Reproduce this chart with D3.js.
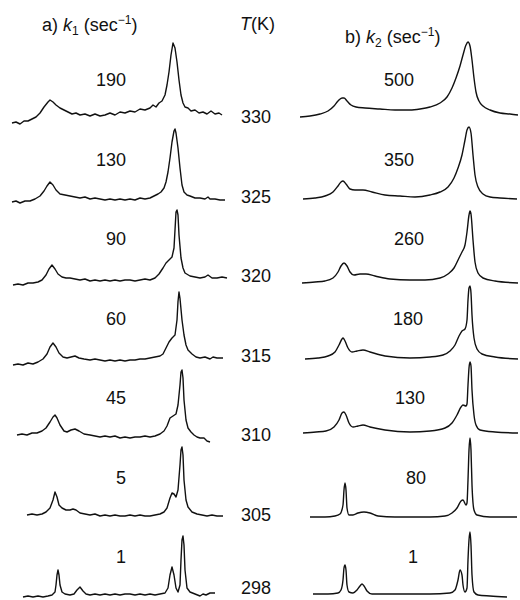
<!DOCTYPE html>
<html>
<head>
<meta charset="utf-8">
<script src="https://cdn.jsdelivr.net/npm/d3@7"></script>
<style>
  html, body { margin: 0; padding: 0; background: #fff; }
  svg { display: block; }
  text { font-family: "Liberation Sans", Arial, Helvetica, sans-serif; fill: #111; }
</style>
</head>
<body>
<svg id="chart" width="520" height="600"></svg>
<script>
// ---------------- DATA ----------------
const temperatures = ["330", "325", "320", "315", "310", "305", "298"];
const k1Rates = ["190", "130", "90", "60", "45", "5", "1"];
const k2Rates = ["500", "350", "260", "180", "130", "80", "1"];

// spectra: [relative shift, intensity] pairs, one array per temperature (top to bottom)
const k1Spectra = [
  [[2,-5],[6,-4],[10,-6],[14,-3],[18,-3],[22,-1],[26,1],[30,5],[34,11],[38,16],[40,18],[43,16],[46,13],[50,10],[54,8],[58,6],[62,4],[66,5],[70,3],[75,4],[80,2],[85,4],[90,2],[95,3],[100,5],[105,3],[110,6],[115,5],[120,7],[125,6],[130,9],[135,8],[140,10],[143,13],[146,11],[149,15],[152,17],[155,23],[157,33],[159,46],[161,63],[163,75],[165,70],[167,56],[169,38],[171,23],[173,15],[175,11],[178,10],[181,7],[185,8],[189,5],[193,6],[197,4],[201,7],[205,4],[209,5],[212,3]],
  [[2,-4.5],[6,-3.5],[10,-5.5],[15,-3.5],[20,-3.5],[25,-1.5],[30,1.5],[34,6.5],[37,11.5],[40,15.5],[43,12.5],[46,7.5],[50,3.5],[55,2.5],[60,1.5],[65,0.5],[70,-0.5],[75,0.5],[80,-1.5],[85,-0.5],[90,-1.5],[95,-2.5],[100,-1.5],[105,-2.5],[110,-1.5],[115,-2.5],[120,-1.5],[125,-2.5],[130,-0.5],[135,-1.5],[140,-0.5],[144,1.5],[148,3.5],[151,5.5],[154,9.5],[156,15.5],[158,25.5],[160,39.5],[162,55.5],[164,66.5],[165,68.5],[166,64.5],[168,49.5],[170,29.5],[172,12.5],[174,5.5],[177,2.5],[180,1.5],[185,-0.5],[190,-0.5],[195,-1.5],[198,0.5],[200,-1.5],[205,-1.5],[210,-2.5],[215,-2.5]],
  [[3,-8],[8,-7],[13,-8],[18,-6],[23,-6],[28,-5],[32,-3],[36,2],[39,8],[42,12],[45,8],[48,3],[52,0],[56,-1],[60,-1],[65,-2],[70,-3],[75,-2],[80,-4],[85,-3],[90,-4],[95,-3],[100,-4],[105,-3],[110,-4],[115,-3],[120,-3],[125,-4],[130,-3],[135,-2],[140,-3],[145,-1],[149,3],[153,9],[156,14],[159,17],[162,20],[164,29],[165,47],[166,65],[167,67],[168,62],[169,42],[171,19],[173,9],[175,4],[180,1],[185,0],[190,-1],[195,0],[198,2],[202,-1],[207,-1],[212,0],[217,-1]],
  [[3,-8.5],[8,-7.5],[13,-8.5],[18,-6.5],[23,-7.5],[28,-5.5],[33,-2.5],[37,2.5],[40,9.5],[43,13.5],[46,9.5],[49,3.5],[53,-0.5],[57,-1.5],[61,-0.5],[65,0.5],[69,-1.5],[74,-2.5],[80,-3.5],[85,-2.5],[90,-3.5],[95,-4.5],[100,-3.5],[105,-4.5],[110,-3.5],[115,-4.5],[120,-3.5],[125,-3.5],[130,-2.5],[135,-2.5],[140,-1.5],[145,-0.5],[150,0.5],[153,2.5],[156,8.5],[159,14.5],[162,18.5],[165,21.5],[167,36.5],[168,55],[169,64.5],[170,58],[172,36.5],[174,21.5],[176,11.5],[178,6.5],[182,2.5],[186,-0.5],[190,-1.5],[195,-0.5],[200,-2.5],[203,-0.5],[207,-1.5],[213,-1.5]],
  [[7,1],[12,2],[17,1],[22,3],[27,3],[32,5],[36,8],[40,14],[43,19],[45,21],[47,18],[50,11],[54,5],[57,4],[61,6],[65,7],[69,5],[74,2],[80,1],[85,0],[90,-1],[95,0],[100,-1],[105,0],[110,-2],[115,-1],[120,-2],[125,-1],[130,-1],[135,0],[140,-1],[145,0],[150,2],[154,5],[157,10],[160,18],[163,20],[166,22],[168,31],[170,51],[171,64],[172,66],[173,58],[174,36],[176,16],[178,8],[181,4],[184,1],[187,-1],[190,-2],[194,-2],[197,-5],[200,-6]],
  [[17,0.5],[22,1.5],[27,0.5],[32,1.5],[36,3.5],[40,7.5],[43,15.5],[45,23.5],[47,18.5],[49,10.5],[52,7.5],[56,5.5],[60,5.5],[63,6.5],[66,5.5],[70,2.5],[75,1.5],[80,0.5],[85,1.5],[90,-0.5],[95,0.5],[100,-0.5],[105,0.5],[110,-0.5],[115,-0.5],[120,0.5],[125,-0.5],[130,0.5],[135,-0.5],[140,-0.5],[145,0.5],[150,1.5],[154,3.5],[157,7.5],[160,17.5],[162,22.5],[164,21.5],[166,18.5],[168,25.5],[170,50.5],[171,65.5],[172,68.5],[173,60.5],[174,35.5],[176,15.5],[178,8.5],[182,3.5],[187,1.5],[192,0.5],[197,-0.5],[202,0.5],[207,-0.5],[213,-0.5]],
  [[13,-2],[18,-1],[23,-2],[28,-1],[33,-2],[38,-1],[42,0],[45,3],[46,10],[47,20],[48,25],[49,20],[50,10],[52,3],[55,1],[60,0],[64,1],[67,5],[70,8],[73,4],[76,1],[80,0],[85,1],[90,0],[95,1],[100,0],[105,1],[110,0],[115,1],[120,1],[125,0],[130,1],[135,0],[140,1],[145,0],[150,1],[155,2],[158,7],[160,20],[162,28],[164,20],[166,7],[168,3],[170,10],[171,35],[172,55],[173,59],[174,50],[175,25],[177,7],[180,3],[185,1],[190,-1],[193,1],[196,0],[200,2],[205,2]]
];

const k2Spectra = [
  [[0,1],[10,2],[20,4],[28,7],[34,12],[38,17],[42,20],[44,20],[47,17],[51,13],[56,11],[65,10],[80,9],[95,8],[110,8],[120,9],[130,11],[140,15],[147,21],[152,30],[156,40],[160,52],[163,63],[166,73],[168,76],[170,72],[172,58],[174,40],[176,26],[179,17],[183,12],[190,8],[200,5],[210,4],[218,3]],
  [[3,-1.5],[15,-0.5],[25,1.5],[33,5.5],[38,11.5],[41,15.5],[43,16.5],[46,13.5],[50,8.5],[55,7.5],[63,7.5],[72,5.5],[85,2.5],[100,1.5],[115,0.5],[130,2.5],[140,5.5],[148,10.5],[154,19.5],[158,29.5],[162,42.5],[165,57.5],[167,67.5],[169,70.5],[171,64.5],[173,42.5],[175,22.5],[178,10.5],[183,3.5],[190,0.5],[200,-0.5],[217,-1.5]],
  [[2,-6],[15,-5],[25,-4],[33,-1],[38,5],[41,11],[44,14],[47,11],[50,5],[54,2],[60,3],[66,3],[75,1],[90,-2],[110,-3],[125,-3],[140,-1],[148,3],[154,9],[159,19],[162,25],[165,32],[167,45],[169,62],[170,66],[171,63],[173,37],[175,15],[178,4],[183,-1],[195,-4],[218,-6]],
  [[5,-2.5],[18,-1.5],[28,0.5],[35,4.5],[39,11.5],[42,17.5],[43,18.5],[45,15.5],[48,8.5],[52,4.5],[57,5.5],[63,6.5],[70,4.5],[85,0.5],[110,-1.5],[130,-0.5],[143,1.5],[150,5.5],[155,11.5],[159,20.5],[162,25.5],[165,27.5],[167,36.5],[168,56.5],[169,68.5],[170,70.5],[171,63.5],[172,41.5],[174,18.5],[177,7.5],[182,2.5],[195,-0.5],[218,-2.5]],
  [[3,3],[16,4],[26,5],[34,9],[39,16],[42,23],[44,24],[46,21],[49,13],[53,9],[58,10],[63,11],[70,9],[85,6],[110,4],[130,5],[145,8],[152,13],[157,21],[161,29],[163,31],[166,30],[167,32],[168,51],[169,68],[170,74],[171,70],[172,46],[174,21],[176,11],[180,6],[195,4],[218,3]],
  [[10,-1.5],[25,-1.5],[35,-0.5],[40,1.5],[43,10.5],[44,25.5],[45,32.5],[46,25.5],[47,7.5],[49,0.5],[53,0.5],[58,2.5],[64,3.5],[70,2.5],[78,-0.5],[95,-1.5],[130,-1.5],[145,-0.5],[152,2.5],[157,7.5],[161,14.5],[163,15.5],[166,10.5],[167,12.5],[168,35.5],[169,65.5],[170,77.5],[171,65.5],[172,30.5],[174,5.5],[177,0.5],[190,-1.5],[217,-1.5]],
  [[13,1],[28,1],[38,2],[41,5],[43,15],[44,27],[45,30],[46,25],[47,10],[49,3],[53,2],[57,5],[60,9],[62,11],[64,9],[67,4],[72,1],[90,1],[130,1],[150,2],[155,5],[158,15],[160,25],[162,20],[163,10],[165,3],[167,7],[168,35],[169,55],[170,63],[171,50],[172,20],[174,3],[178,0],[190,-1],[207,-2]]
];

// ---------------- LAYOUT ----------------
const svg = d3.select("#chart");

const xLeft = d3.scaleLinear().domain([0, 220]).range([10, 230]);
const xRight = d3.scaleLinear().domain([0, 220]).range([300, 520]);
const rowScale = d3.scaleLinear().domain([0, temperatures.length - 1]).range([118, 595]);
const yInt = d3.scaleLinear().domain([0, 100]).range([0, -100]);

function drawPanel(spectra, xScale, curve) {
  const g = svg.append("g");
  spectra.forEach((pts, i) => {
    const line = d3.line()
      .x(d => xScale(d[0]))
      .y(d => rowScale(i) + yInt(d[1]))
      .curve(curve);
    g.append("path")
      .datum(pts)
      .attr("d", line)
      .attr("fill", "none")
      .attr("stroke", "#111")
      .attr("stroke-width", 1.4)
      .attr("stroke-linejoin", "round");
  });
}

drawPanel(k1Spectra, xLeft, d3.curveLinear);
drawPanel(k2Spectra, xRight, d3.curveMonotoneX);

// rate labels
const fs = 18;
svg.append("g").selectAll("text").data(k1Rates).join("text")
  .attr("x", 126)
  .attr("y", (d, i) => rowScale(i) - 32)
  .attr("text-anchor", "end")
  .attr("font-size", fs)
  .text(d => d);

const k2LabelCenter = [399, 399, 409, 408, 410, 416, 413];
svg.append("g").selectAll("text").data(k2Rates).join("text")
  .attr("x", (d, i) => k2LabelCenter[i])
  .attr("y", (d, i) => rowScale(i) - 32)
  .attr("text-anchor", "middle")
  .attr("font-size", fs)
  .text(d => d);

// temperature labels
svg.append("g").selectAll("text").data(temperatures).join("text")
  .attr("x", 241)
  .attr("y", (d, i) => Math.min(rowScale(i) + 5, 594))
  .attr("font-size", fs)
  .text(d => d);

// headers
const tHead = svg.append("text").attr("x", 240).attr("y", 30).attr("font-size", fs);
tHead.append("tspan").attr("font-style", "italic").text("T");
tHead.append("tspan").text("(K)");

function header(x, y, letter, sub) {
  const t = svg.append("text").attr("x", x).attr("y", y).attr("font-size", fs);
  t.append("tspan").text(letter + ") ");
  t.append("tspan").attr("font-style", "italic").text("k");
  t.append("tspan").attr("font-size", 12).attr("dy", 4).text(sub);
  t.append("tspan").attr("dy", -4).text(" (sec");
  t.append("tspan").attr("font-size", 12).attr("dy", -7).text("\u22121");
  t.append("tspan").attr("dy", 7).text(")");
}
header(42, 31, "a", "1");
header(345, 43, "b", "2");
</script>
</body>
</html>
